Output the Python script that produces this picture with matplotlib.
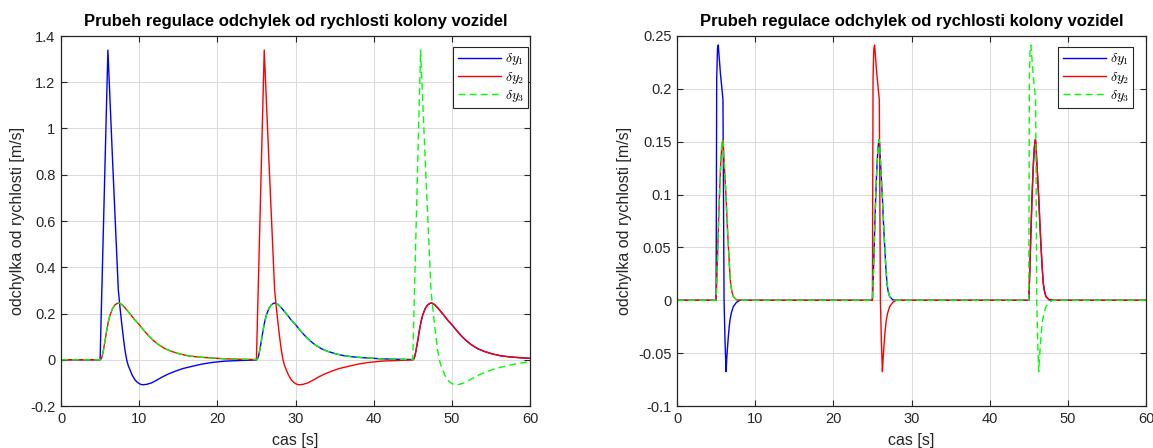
import numpy as np
import matplotlib
matplotlib.use('Agg')
import matplotlib.pyplot as plt

plt.rcParams['font.family'] = ['Liberation Sans', 'DejaVu Sans']
plt.rcParams['mathtext.fontset'] = 'cm'
plt.rcParams['axes.unicode_minus'] = False

# start of each disturbance (s); vehicle i gets the spike at event i
events = [5, 25, 45]

# left plot shapes, time relative to event start
left_spike_t = [0, 1.0, 1.6, 2.33, 2.55, 2.76, 2.97, 3.18, 3.4, 3.6, 3.82, 4.1, 4.46, 4.75, 5.0, 5.25, 5.53,
                6.0, 6.59, 7.2, 7.87, 8.7, 9.58, 10.6, 11.7, 13.0, 14.27, 16.0, 18.0, 20.0]
left_spike_y = [0, 1.339, 0.86, 0.303, 0.225, 0.159, 0.098, 0.043, 0.0, -0.025, -0.043, -0.066, -0.087, -0.097, -0.103, -0.107, -0.108,
                -0.106, -0.100, -0.089, -0.076, -0.062, -0.050, -0.038, -0.029, -0.019, -0.012, -0.006, -0.003, -0.001]
left_bump_t = [0, 0.1, 0.2, 0.3, 0.42, 0.6, 0.84, 1.05, 1.27, 1.6, 1.9, 2.2, 2.45, 2.8, 3.18, 3.6, 4.04, 4.5,
               5.0, 5.6, 6.17, 6.8, 7.45, 8.3, 9.15, 10.2, 11.28, 12.5, 13.84, 16.0, 18.0, 20.0]
left_bump_y = [0, 0.002, 0.008, 0.02, 0.04, 0.075, 0.125, 0.163, 0.193, 0.222, 0.237, 0.244, 0.245, 0.238, 0.225, 0.208, 0.19, 0.17,
               0.152, 0.127, 0.105, 0.084, 0.066, 0.048, 0.036, 0.025, 0.017, 0.012, 0.0085, 0.004, 0.002, 0.001]

# right plot shapes
right_spike_t = [0, 0.08, 0.18, 0.28, 0.55, 0.88, 0.95, 1.02, 1.15, 1.28, 1.36, 1.44, 1.57, 1.68, 1.78, 1.95, 2.2, 2.6, 3.06, 20.0]
right_spike_y = [0, 0.21, 0.238, 0.2415, 0.215, 0.19, 0.1, 0.0, -0.04, -0.0675, -0.056, -0.047, -0.034, -0.025, -0.0186, -0.012, -0.006, -0.002, 0, 0]
right_bump_t = [0, 0.1, 0.2, 0.3, 0.4, 0.5, 0.6, 0.72, 0.85, 0.93, 1.0, 1.13, 1.27, 1.42, 1.57, 1.72, 1.86, 2.0, 2.2, 2.6, 3.2, 20.0]
right_bump_y = [0, 0.02, 0.045, 0.07, 0.093, 0.113, 0.13, 0.145, 0.152, 0.147, 0.135, 0.117, 0.098, 0.073, 0.051, 0.031, 0.016, 0.009, 0.0035, 0.0005, 0, 0]

left_yticks = [-0.2, 0, 0.2, 0.4, 0.6, 0.8, 1, 1.2, 1.4]
left_ylabels = ['-0.2', '0', '0.2', '0.4', '0.6', '0.8', '1', '1.2', '1.4']
right_yticks = [-0.1, -0.05, 0, 0.05, 0.1, 0.15, 0.2, 0.25]
right_ylabels = ['-0.1', '-0.05', '0', '0.05', '0.1', '0.15', '0.2', '0.25']
xticks = [0, 10, 20, 30, 40, 50, 60]
labels = [r'$\delta y_1$', r'$\delta y_2$', r'$\delta y_3$']


def build(k, spike_t, spike_y, bump_t, bump_y):
    t = [0.0]
    y = [0.0]
    for j, t0 in enumerate(events):
        if j == k:
            st, sy = spike_t, spike_y
        else:
            st, sy = bump_t, bump_y
        t += [t0 + v for v in st]
        y += list(sy)
    return t, y


fig = plt.figure(figsize=(11.53, 4.48), dpi=100)
W, H = 1153, 448
ax1 = fig.add_axes([61 / W, 1 - 406 / H, 469 / W, 370 / H])
ax2 = fig.add_axes([677 / W, 1 - 406 / H, 469 / W, 370 / H])

styles = [dict(color=(0, 0, 1), ls='-'),
          dict(color=(1, 0, 0), ls='-'),
          dict(color=(0, 1, 0), ls=(0, (5, 3)))]

dark = '#262626'
setups = [
    (ax1, left_spike_t, left_spike_y, left_bump_t, left_bump_y, (-0.2, 1.4), left_yticks, left_ylabels, 0.9964),
    (ax2, right_spike_t, right_spike_y, right_bump_t, right_bump_y, (-0.1, 0.25), right_yticks, right_ylabels, 0.973),
]
for ax, st, sy, bt, by, ylim, yt, yl, lx in setups:
    for k in range(3):
        t, y = build(k, st, sy, bt, by)
        ax.plot(t, y, lw=1.0, label=labels[k], **styles[k])
    ax.set_xlim(0, 60)
    ax.set_ylim(*ylim)
    ax.set_xticks(xticks)
    ax.set_yticks(yt)
    ax.set_yticklabels(yl)
    ax.grid(True, color='#dcdcdc', lw=0.8)
    ax.set_axisbelow(True)
    ax.tick_params(direction='in', top=True, right=True, length=4, width=0.8,
                   colors=dark, labelsize=10.5, pad=4)
    for s in ax.spines.values():
        s.set_color(dark)
        s.set_linewidth(0.9)
    ax.set_title('Prubeh regulace odchylek od rychlosti kolony vozidel',
                 fontsize=12, fontweight='bold', pad=7)
    ax.set_xlabel('cas [s]', fontsize=11.5, color=dark, labelpad=5)
    ax.set_ylabel('odchylka od rychlosti [m/s]', fontsize=11.5, color=dark, labelpad=4)
    leg = ax.legend(loc='upper right', bbox_to_anchor=(lx, 0.9695), borderaxespad=0,
                    fontsize=10, handlelength=3.1, handletextpad=0.3,
                    labelspacing=0.15, borderpad=0.3, fancybox=False, framealpha=1)
    leg.get_frame().set_edgecolor(dark)
    leg.get_frame().set_linewidth(0.8)

fig.savefig('out.png', dpi=100)
